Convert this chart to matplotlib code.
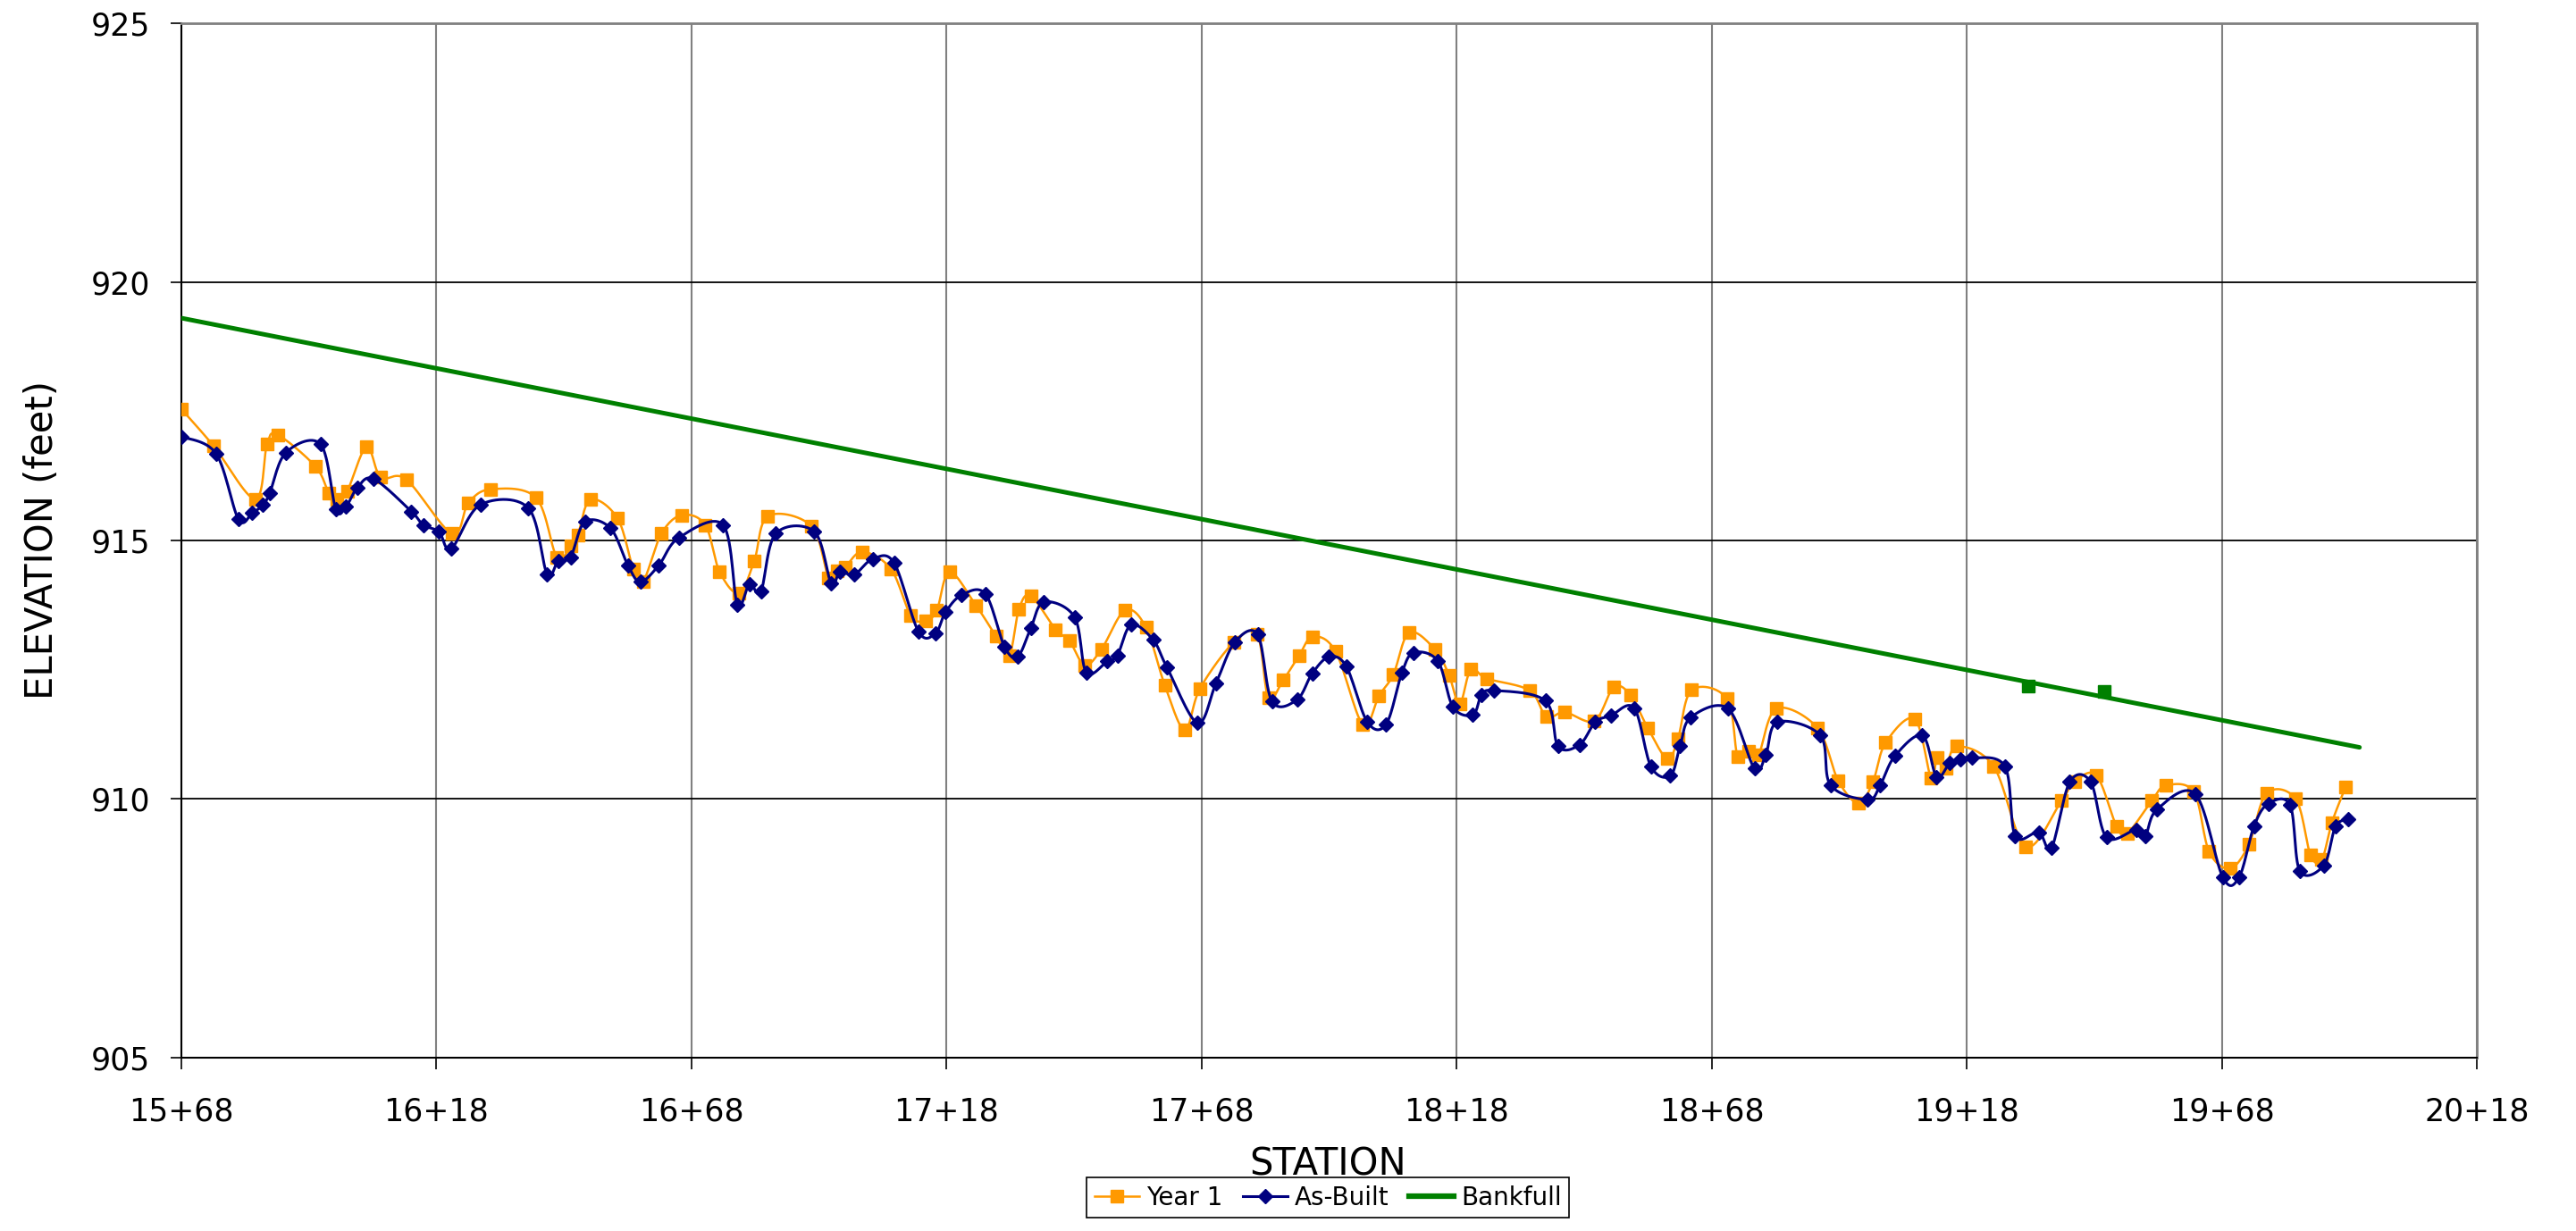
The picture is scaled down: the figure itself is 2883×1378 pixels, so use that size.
import numpy as np
import matplotlib
matplotlib.use("Agg")
import matplotlib.pyplot as plt
from matplotlib.lines import Line2D

plt.rcParams['font.family'] = ['DejaVu Sans']

# Year 1 survey (station ft, elevation ft)
year1_sta = [1568, 1574.3, 1582.5, 1584.8, 1586.9, 1594.3, 1596.9, 1598.5, 1600.5, 1604.3,
             1607.1, 1612.1, 1621.1, 1624.3, 1628.7, 1637.5, 1641.6, 1644.3, 1645.7, 1648.2,
             1653.5, 1656.6, 1658.5, 1662.1, 1666.1, 1670.7, 1673.5, 1677.3, 1680.3, 1683.0,
             1691.5, 1694.9, 1696.6, 1698.1, 1701.5, 1707.1, 1711.0, 1713.9, 1716.1, 1718.6,
             1723.8, 1727.7, 1730.3, 1732.2, 1734.5, 1739.4, 1742.1, 1745.1, 1748.4, 1753.0,
             1757.1, 1760.8, 1764.7, 1767.7, 1774.3, 1778.9, 1781.1, 1784.0, 1787.1, 1789.8,
             1794.3, 1799.6, 1802.8, 1805.6, 1808.7, 1813.8, 1816.5, 1818.6, 1820.8, 1823.9,
             1832.3, 1835.6, 1839.2, 1845.0, 1848.8, 1852.1, 1855.5, 1859.3, 1861.4, 1864.1,
             1871.0, 1873.1, 1875.3, 1877.2, 1880.7, 1888.7, 1892.8, 1896.8, 1899.6, 1902.1,
             1907.8, 1911.0, 1912.2, 1913.9, 1916.1, 1923.3, 1929.6, 1936.6, 1939.1, 1943.4,
             1947.4, 1949.5, 1954.3, 1957.0, 1962.5, 1965.5, 1969.6, 1973.3, 1976.8, 1982.5,
             1985.4, 1987.6, 1989.6, 1992.3]
year1_elev = [917.54, 916.83, 915.80, 916.86, 917.04, 916.43, 915.92, 915.80, 915.95, 916.81,
              916.22, 916.18, 915.13, 915.73, 915.99, 915.83, 914.68, 914.89, 915.10, 915.79,
              915.43, 914.45, 914.20, 915.13, 915.49, 915.30, 914.40, 913.98, 914.60, 915.47,
              915.28, 914.28, 914.41, 914.48, 914.78, 914.45, 913.55, 913.45, 913.65, 914.39,
              913.74, 913.15, 912.78, 913.67, 913.93, 913.28, 913.06, 912.59, 912.90, 913.65,
              913.32, 912.20, 911.34, 912.14, 913.03, 913.18, 911.96, 912.30, 912.77, 913.14,
              912.85, 911.44, 912.00, 912.41, 913.22, 912.89, 912.40, 911.84, 912.51, 912.33,
              912.10, 911.59, 911.68, 911.51, 912.16, 912.01, 911.37, 910.78, 911.17, 912.11,
              911.94, 910.82, 910.92, 910.86, 911.75, 911.38, 910.36, 909.92, 910.33, 911.09,
              911.55, 910.41, 910.80, 910.60, 911.02, 910.63, 909.08, 909.97, 910.33, 910.46,
              909.47, 909.34, 909.97, 910.26, 910.14, 908.99, 908.66, 909.12, 910.11, 910.00,
              908.92, 908.83, 909.55, 910.24]

# As-built survey
asbuilt_sta = [1568, 1574.8, 1579.2, 1581.9, 1584.0, 1585.3, 1588.5, 1595.3, 1598.3, 1600.3,
               1602.5, 1605.7, 1613.1, 1615.4, 1618.5, 1620.9, 1626.6, 1636.0, 1639.7, 1641.9,
               1644.3, 1647.1, 1652.1, 1655.6, 1658.0, 1661.6, 1665.5, 1674.2, 1677.0, 1679.4,
               1681.6, 1684.5, 1692.1, 1695.4, 1697.1, 1699.9, 1703.5, 1707.7, 1712.5, 1715.8,
               1717.8, 1720.9, 1725.6, 1729.4, 1732.0, 1734.5, 1737.1, 1743.1, 1745.4, 1749.5,
               1751.5, 1754.2, 1758.5, 1761.2, 1767.2, 1770.8, 1774.5, 1779.0, 1781.8, 1786.7,
               1789.7, 1793.0, 1796.4, 1800.5, 1804.2, 1807.3, 1809.6, 1814.3, 1817.3, 1821.2,
               1822.9, 1825.4, 1835.4, 1837.9, 1842.1, 1845.2, 1848.2, 1852.8, 1856.1, 1859.9,
               1861.8, 1863.9, 1871.2, 1876.4, 1878.6, 1880.9, 1889.3, 1891.3, 1898.6, 1901.0,
               1903.9, 1909.3, 1912.1, 1914.7, 1916.8, 1919.0, 1925.5, 1927.5, 1932.1, 1934.6,
               1938.2, 1942.3, 1945.4, 1951.2, 1953.0, 1955.3, 1962.8, 1968.2, 1971.4, 1974.3,
               1977.1, 1981.4, 1983.3, 1988.0, 1990.3, 1992.8]
asbuilt_elev = [917.01, 916.68, 915.41, 915.53, 915.69, 915.91, 916.70, 916.86, 915.60, 915.66,
                916.02, 916.19, 915.56, 915.30, 915.17, 914.84, 915.69, 915.63, 914.35, 914.61,
                914.68, 915.36, 915.24, 914.51, 914.20, 914.52, 915.05, 915.30, 913.76, 914.16,
                914.01, 915.13, 915.17, 914.17, 914.39, 914.34, 914.64, 914.57, 913.24, 913.20,
                913.61, 913.94, 913.97, 912.94, 912.76, 913.30, 913.81, 913.52, 912.45, 912.66,
                912.78, 913.37, 913.08, 912.55, 911.47, 912.23, 913.03, 913.18, 911.89, 911.92,
                912.43, 912.75, 912.56, 911.49, 911.45, 912.45, 912.83, 912.67, 911.78, 911.63,
                912.01, 912.10, 911.90, 911.02, 911.05, 911.49, 911.61, 911.76, 910.63, 910.45,
                911.02, 911.58, 911.75, 910.59, 910.85, 911.49, 911.23, 910.27, 909.99, 910.26,
                910.83, 911.23, 910.43, 910.70, 910.77, 910.80, 910.63, 909.29, 909.36, 909.05,
                910.33, 910.33, 909.26, 909.41, 909.29, 909.80, 910.10, 908.49, 908.49, 909.47,
                909.91, 909.88, 908.61, 908.72, 909.47, 909.61]

bankfull_sta = [1568, 1995]
bankfull_elev = [919.3, 911.0]
bkf_pts_sta = [1930, 1945]
bkf_pts_elev = [912.18, 912.08]

XMIN, XMAX, YMIN, YMAX = 1568, 2018, 905, 925


def smooth(xs, ys, w=2569.0, h=1158.0, n=16):
    # excel-like smoothed line, done in screen-ish units
    u = (np.asarray(xs) - XMIN) / (XMAX - XMIN) * w
    v = (np.asarray(ys) - YMIN) / (YMAX - YMIN) * h
    P = np.c_[u, v]
    P = np.vstack([P[0], P, P[-1]])
    out = []
    t = np.linspace(0, 1, n)[:, None]
    for i in range(1, len(P) - 2):
        p0, p1, p2, p3 = P[i - 1], P[i], P[i + 1], P[i + 2]
        c1 = p1 + (p2 - p0) / 6.0
        c2 = p2 - (p3 - p1) / 6.0
        seg = (1 - t) ** 3 * p1 + 3 * (1 - t) ** 2 * t * c1 + 3 * (1 - t) * t ** 2 * c2 + t ** 3 * p2
        out.append(seg if i == 1 else seg[1:])
    out = np.vstack(out)
    return out[:, 0] / w * (XMAX - XMIN) + XMIN, out[:, 1] / h * (YMAX - YMIN) + YMIN


orange = '#FF9900'
navy = '#000080'
green = '#008000'

fig = plt.figure(figsize=(28.83, 13.78), dpi=100)
ax = fig.add_axes([0.0704, 0.1408, 0.8911, 0.8403])

sx, sy = smooth(year1_sta, year1_elev)
ax.plot(sx, sy, color=orange, lw=1.8, zorder=3)
ax.plot(year1_sta, year1_elev, ls='none', marker='s', ms=10, color=orange, zorder=3)

sx, sy = smooth(asbuilt_sta, asbuilt_elev)
ax.plot(sx, sy, color=navy, lw=2.2, zorder=4)
ax.plot(asbuilt_sta, asbuilt_elev, ls='none', marker='D', ms=8.5, color=navy, zorder=4)

ax.plot(bankfull_sta, bankfull_elev, color=green, lw=3.6, solid_capstyle='round', zorder=5)
ax.plot(bkf_pts_sta, bkf_pts_elev, ls='none', marker='s', ms=10, color=green, zorder=5)

ax.set_xlim(XMIN, XMAX)
ax.set_ylim(YMIN, YMAX)
xt = np.arange(XMIN, XMAX + 1, 50)
ax.set_xticks(xt)
ax.set_xticklabels([f"{v // 100}+{v % 100:02d}" for v in xt])
ax.set_yticks(np.arange(YMIN, YMAX + 1, 5))
ax.tick_params(axis='both', direction='out', length=9, width=1.2, labelsize=25, color='black')
ax.tick_params(axis='x', pad=22)
ax.tick_params(axis='y', pad=16)

ax.xaxis.grid(True, color='#808080', lw=1.5)
ax.yaxis.grid(True, color='black', lw=1.3)
ax.set_axisbelow(True)
for s in ['left', 'bottom']:
    ax.spines[s].set_color('black')
    ax.spines[s].set_linewidth(1.5)
for s in ['top', 'right']:
    ax.spines[s].set_color('#808080')
    ax.spines[s].set_linewidth(2)

fig.text(0.0163, 0.561, 'ELEVATION (feet)', rotation=90, ha='center', va='center', fontsize=30)
fig.text(0.5155, 0.0385, 'STATION', ha='center', va='bottom', fontsize=30)

handles = [Line2D([], [], color=orange, lw=1.8, marker='s', ms=10),
           Line2D([], [], color=navy, lw=2.2, marker='D', ms=8.5),
           Line2D([], [], color=green, lw=4.5)]
leg = fig.legend(handles, ['Year 1', 'As-Built', 'Bankfull'], loc='lower center',
                 bbox_to_anchor=(0.5155, 0.0007), ncol=3, fontsize=20, frameon=True,
                 fancybox=False, framealpha=1, edgecolor='black', handlelength=1.8,
                 handletextpad=0.3, columnspacing=0.8, borderpad=0.3)
leg.get_frame().set_linewidth(1.2)
leg.set_zorder(10)

fig.savefig('out.png', dpi=100)
